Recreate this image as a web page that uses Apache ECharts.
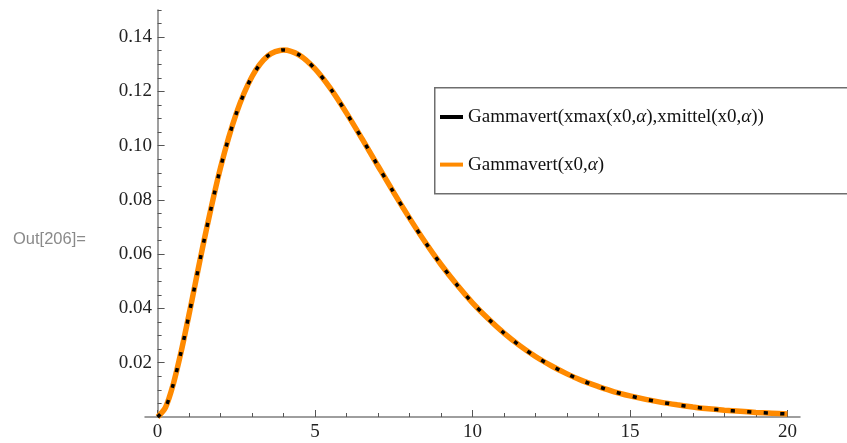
<!DOCTYPE html>
<html>
<head>
<meta charset="utf-8">
<title>Gammavert</title>
<script src="https://cdn.jsdelivr.net/npm/echarts@6/dist/echarts.min.js"></script>
<style>
  html, body { margin: 0; padding: 0; background: #fff; }
  #chart { width: 847px; height: 443px; }
</style>
</head>
<body>
<div id="chart"></div>
<script>
// Sample positions along x
const xValues = [
  0, 0.25, 0.5, 0.75, 1, 1.5, 2, 2.5, 3, 3.5, 4, 4.5, 5, 5.5, 6, 6.5, 7, 7.5, 8, 8.5, 9, 9.5,
  10, 10.5, 11, 11.5, 12, 12.5, 13, 13.5, 14, 14.5, 15, 15.5, 16, 16.5, 17, 17.5, 18, 18.5,
  19, 19.5, 20
];

// Gammavert(xmax(x0,α),xmittel(x0,α)) — black dashed curve
const gammaXmaxXmittel = [
  0, 0.0035, 0.0122, 0.0242, 0.0379, 0.0664, 0.0920, 0.1119, 0.1255, 0.1331, 0.1353, 0.1334,
  0.1283, 0.1209, 0.1120, 0.1024, 0.0925, 0.0827, 0.0733, 0.0644, 0.0562, 0.0488,
  0.0421, 0.0362, 0.0309, 0.0263, 0.0223, 0.0189, 0.0159, 0.0133, 0.0112, 0.0093,
  0.0078, 0.0065, 0.0054, 0.0045, 0.0037, 0.0030, 0.0025, 0.0021, 0.0017, 0.0014, 0.0011
];

// Gammavert(x0,α) — orange curve
const gammaX0Alpha = [
  0, 0.0035, 0.0122, 0.0242, 0.0379, 0.0664, 0.0920, 0.1119, 0.1255, 0.1331, 0.1353, 0.1334,
  0.1283, 0.1209, 0.1120, 0.1024, 0.0925, 0.0827, 0.0733, 0.0644, 0.0562, 0.0488,
  0.0421, 0.0362, 0.0309, 0.0263, 0.0223, 0.0189, 0.0159, 0.0133, 0.0112, 0.0093,
  0.0078, 0.0065, 0.0054, 0.0045, 0.0037, 0.0030, 0.0025, 0.0021, 0.0017, 0.0014, 0.0011
];

// Axis ticks
const xMajorTicks = [0, 5, 10, 15, 20];
const xMinorTicks = [1, 2, 3, 4, 6, 7, 8, 9, 11, 12, 13, 14, 16, 17, 18, 19];
const yMajorTicks = [0.02, 0.04, 0.06, 0.08, 0.10, 0.12, 0.14];
const yMinorTicks = [0.005, 0.01, 0.015, 0.025, 0.03, 0.035, 0.045, 0.05, 0.055, 0.065, 0.07, 0.075,
  0.085, 0.09, 0.095, 0.105, 0.11, 0.115, 0.125, 0.13, 0.135, 0.145, 0.15];

const seriesNames = ['Gammavert(xmax(x0,α),xmittel(x0,α))', 'Gammavert(x0,α)'];

const toPairs = ys => xValues.map((x, i) => [x, ys[i]]);

const serif = 'Liberation Serif';
const axisGray = '#7f7f7f';
const tickGray = '#555555';

const chart = echarts.init(document.getElementById('chart'));

const richLabel = name => name.replace(/α/g, '{i|α}');

chart.setOption({
  animation: false,
  backgroundColor: '#ffffff',
  grid: { left: 145, right: 47, top: 10, bottom: 26, containLabel: false },
  xAxis: [
    {
      type: 'value', min: -0.4, max: 20.4,
      axisLine: { onZero: true, lineStyle: { color: axisGray, width: 1.5 } },
      axisTick: { inside: true, length: 7, customValues: xMajorTicks, lineStyle: { color: tickGray, width: 1 } },
      axisLabel: { customValues: xMajorTicks, margin: 6, color: '#222', fontFamily: serif, fontSize: 19 },
      splitLine: { show: false }
    },
    {
      type: 'value', min: -0.4, max: 20.4, position: 'bottom',
      axisLine: { show: false, onZero: true },
      axisTick: { inside: true, length: 4, customValues: xMinorTicks, lineStyle: { color: tickGray, width: 1 } },
      axisLabel: { show: false },
      splitLine: { show: false }
    }
  ],
  yAxis: [
    {
      type: 'value', min: 0, max: 0.15,
      axisLine: { onZero: true, lineStyle: { color: axisGray, width: 1.5 } },
      axisTick: { inside: true, length: 7, customValues: yMajorTicks, lineStyle: { color: tickGray, width: 1 } },
      axisLabel: {
        customValues: yMajorTicks, margin: -7, color: '#222', fontFamily: serif, fontSize: 19,
        formatter: v => v.toFixed(2)
      },
      splitLine: { show: false }
    },
    {
      type: 'value', min: 0, max: 0.15, position: 'left',
      axisLine: { show: false, onZero: true },
      axisTick: { inside: true, length: 4, customValues: yMinorTicks, lineStyle: { color: tickGray, width: 1 } },
      axisLabel: { show: false },
      splitLine: { show: false }
    }
  ],
  legend: {
    left: 440, top: 106, orient: 'vertical',
    itemWidth: 23, itemHeight: 4, itemGap: 25.6, itemTextGap: 5, padding: 0,
    data: [
      { name: seriesNames[0], icon: 'rect', itemStyle: { color: '#000000' } },
      { name: seriesNames[1], icon: 'rect', itemStyle: { color: '#ff8a00' } }
    ],
    formatter: richLabel,
    textStyle: {
      fontFamily: serif, fontSize: 19, color: '#111', lineHeight: 22,
      rich: { i: { fontFamily: serif, fontSize: 19, fontStyle: 'italic', color: '#111', lineHeight: 22 } }
    }
  },
  graphic: [
    {
      type: 'rect', left: 434, top: 87, z: -1,
      shape: { width: 460, height: 106 },
      style: { fill: '#ffffff', stroke: '#6e6e6e', lineWidth: 1.5 }
    },
    {
      type: 'text', left: 13, top: 231,
      style: { text: 'Out[206]=', fill: '#8a8a8a', font: '16.5px "Liberation Sans", Arial, sans-serif' }
    }
  ],
  series: [
    {
      name: seriesNames[1], type: 'line', data: toPairs(gammaX0Alpha),
      smooth: 0.3, showSymbol: false, symbol: 'none', z: 2,
      lineStyle: { color: '#ff8a00', width: 5.5, cap: 'butt' },
      itemStyle: { color: '#ff8a00' }
    },
    {
      name: seriesNames[0], type: 'line', data: toPairs(gammaXmaxXmittel),
      smooth: 0.3, showSymbol: false, symbol: 'none', z: 3,
      lineStyle: { color: '#000000', width: 3.5, type: [4, 12.5], cap: 'butt' },
      itemStyle: { color: '#000000' }
    }
  ]
});
</script>
</body>
</html>
